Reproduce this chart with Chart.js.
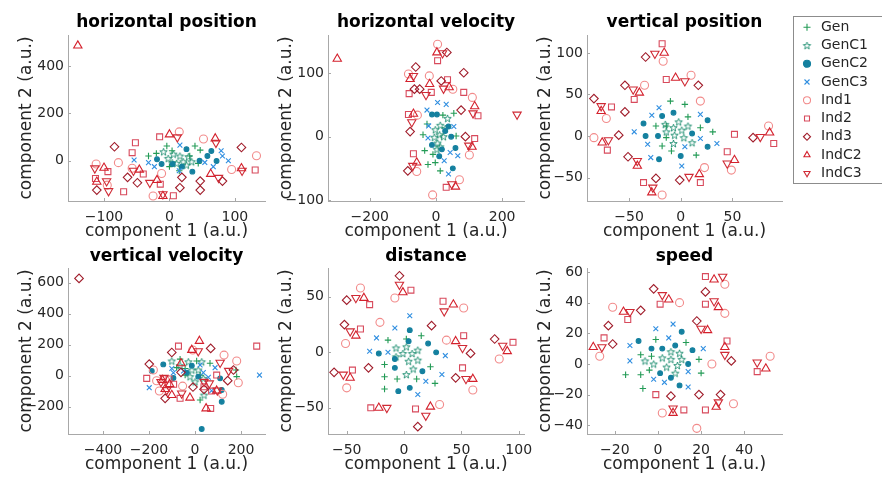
<!DOCTYPE html>
<html>
<head>
<meta charset="utf-8">
<script src="https://cdn.jsdelivr.net/npm/chart.js@4.4.1/dist/chart.umd.min.js"></script>
<style>
  html, body { margin: 0; padding: 0; background: #fff; width: 882px; height: 477px; overflow: hidden; }
  canvas { position: absolute; }
</style>
</head>
<body>
<canvas id="p0"></canvas><canvas id="p1"></canvas><canvas id="p2"></canvas>
<canvas id="p3"></canvas><canvas id="p4"></canvas><canvas id="p5"></canvas>
<canvas id="legend"></canvas>
<script>
// series names (legend order)
const seriesNames = ['Gen', 'GenC1', 'GenC2', 'GenC3', 'Ind1', 'Ind2', 'Ind3', 'IndC2', 'IndC3'];
const panelTitles = ['horizontal position', 'horizontal velocity', 'vertical position',
                     'vertical velocity', 'distance', 'speed'];

// axis limits and tick values per panel
const xLimits = [[-155, 146], [-326, 266], [-90.7, 98], [-552, 304], [-66.3, 104.6], [-32.9, 57.5]];
const yLimits = [[-170, 531], [-101.6, 160.6], [-78.2, 121.5], [-376, 695], [-73.6, 76], [-45.7, 62.6]];
const xTicks = [[-100, 0, 100], [-200, 0, 200], [-50, 0, 50], [-400, -200, 0, 200], [-50, 0, 50, 100], [-20, 0, 20, 40]];
const yTicks = [[0, 200, 400], [-100, 0, 100], [-50, 0, 50, 100], [-200, 0, 200, 400, 600], [-50, 0, 50], [-40, -20, 0, 20, 40, 60]];

// horizontal position
const hpGen   = [[-32,20],[-20,31],[-4,62],[4,42],[31,20],[39,62],[47,45],[44,-11],[0,-25],[15,-42]];
const hpGenC1 = [[-9,38],[6,28],[-2,10],[16,20],[29,17],[21,-4],[34,-4],[11,-11],[4,-8],[26,-18]];
const hpGenC2 = [[-19,6],[-12,-14],[5,-14],[26,49],[58,20],[64,41],[72,-1],[35,-46],[19,-25],[46,0]];
const hpGenC3 = [[16,66],[-54,3],[-32,-8],[-23,-25],[15,-42],[54,-7],[67,-25],[79,42],[81,20],[90,0]];
const hpInd1  = [[15,122],[52,92],[-78,-8],[-112,-14],[-57,-32],[-12,-54],[-95,-103],[-25,-149],[95,-37],[133,21]];
const hpInd2  = [[-15,101],[-52,76],[-57,34],[-94,-46],[-113,-75],[-40,-56],[-14,-99],[-70,-131],[6,-148],[131,-39]];
const hpInd3  = [[-84,59],[110,56],[-49,-93],[-64,-70],[-111,-124],[19,-70],[16,-114],[47,-86],[47,-124],[81,-86]];
const hpIndC2 = [[-140,486],[0,111],[70,94],[-100,-30],[-111,-89],[-19,-82],[63,-56],[110,-32],[-10,-149],[-46,-38]];
const hpIndC3 = [[12,99],[71,76],[-114,-32],[-96,-86],[-93,-128],[-55,-42],[-30,-93],[75,-72],[111,-42],[-10,-141]];

// horizontal velocity
const hvGen   = [[21,34],[54,37],[-27,20],[-39,3],[61,1],[-34,-22],[-9,-28],[-24,-44],[-2,-41],[13,-54]];
const hvGenC1 = [[35,29],[13,18],[28,13],[-2,11],[11,3],[23,0],[-5,-1],[5,-10],[13,-16],[3,-20]];
const hvGenC2 = [[-12,35],[3,35],[38,16],[46,0],[-12,-13],[18,-20],[59,-18],[10,-31],[51,-50],[28,9]];
const hvGenC3 = [[5,54],[31,51],[-27,42],[-22,17],[54,16],[-24,-2],[43,-25],[66,-30],[25,-38],[38,-59]];
const hvInd1  = [[5,146],[-83,99],[-20,96],[51,75],[110,62],[-56,34],[101,-29],[-58,-55],[71,-68],[-10,-92]];
const hvInd2  = [[5,120],[35,90],[-81,68],[-14,70],[84,70],[-83,35],[127,33],[117,-3],[-68,-27],[31,-80]];
const hvInd3  = [[-61,110],[16,88],[-65,75],[-49,75],[33,133],[84,101],[76,42],[-78,8],[89,0],[-85,-54]];
const hvIndC2 = [[-298,123],[3,133],[-78,91],[-19,83],[40,78],[-68,36],[117,48],[109,-16],[-58,-41],[59,-79]];
const hvIndC3 = [[245,35],[20,132],[23,76],[-30,66],[-73,23],[112,37],[99,-14],[-70,-46],[48,-75],[-68,96]];

// vertical position
const vpGen   = [[-10,42],[4,38],[7,23],[-14,12],[19,10],[31,5],[-14,-2],[-18,-12],[-9,-18],[15,-23],[-24,12]];
const vpGenC1 = [[-2,17],[-15,14],[-7,10],[7,12],[1,7],[-14,5],[-6,1],[3,-2],[-7,-9],[11,-8]];
const vpGenC2 = [[-7,28],[-18,24],[-36,15],[-34,0],[-22,0],[11,3],[26,19],[26,-13],[0,-24],[-21,-28]];
const vpGenC3 = [[-21,34],[-28,25],[19,26],[-45,5],[19,-3],[-32,-10],[4,-13],[35,-9],[-29,-26],[1,-36]];
const vpInd1  = [[-17,90],[-35,61],[10,73],[19,42],[-72,21],[-84,-2],[23,-38],[49,-41],[-18,-71],[85,12]];
const vpInd2  = [[-18,111],[-14,68],[-45,44],[-67,35],[-71,-17],[52,2],[45,-19],[19,-56],[-36,-56],[90,-9]];
const vpInd3  = [[-34,95],[17,61],[-54,61],[-84,45],[-54,29],[-60,1],[-51,-25],[-24,-51],[-1,-53],[70,-2]];
const vpIndC2 = [[-16,100],[-5,70],[-40,52],[-77,30],[-76,-8],[-42,-36],[52,-29],[18,-46],[-28,-68],[86,4]];
const vpIndC3 = [[-25,99],[-46,56],[4,66],[-77,36],[-70,-5],[-42,-30],[8,-49],[45,-33],[-27,-62],[77,-1]];

// vertical velocity
const vvGen   = [[-65,107],[7,95],[65,80],[-43,47],[178,37],[181,-6],[22,4],[22,-157],[-43,4],[-80,52]];
const vvGenC1 = [[-101,95],[-29,90],[29,90],[-14,37],[14,37],[-22,-6],[0,-39],[36,-17],[39,-125],[-65,65]];
const vvGenC2 = [[-188,30],[-138,73],[-14,65],[14,-6],[109,-17],[116,-92],[116,-168],[29,-344],[-94,-15],[-36,20]];
const vvGenC3 = [[-199,-77],[-101,47],[-94,19],[22,69],[87,52],[72,-97],[280,4],[36,20],[58,-10],[-50,30]];
const vvInd1  = [[-181,37],[-167,-32],[-155,-99],[-54,-67],[126,133],[181,95],[188,-45],[120,-120],[-10,166],[-130,-25]];
const vvInd2  = [[-72,191],[268,191],[-210,-17],[-113,-21],[-65,-146],[39,-71],[72,-99],[68,-211],[94,4],[-93,-55]];
const vvInd3  = [[-504,628],[-199,75],[-101,150],[68,176],[-130,-146],[39,-88],[167,37],[142,-32],[-61,22],[-9,-73]];
const vvIndC2 = [[19,224],[-14,166],[-61,80],[-142,-28],[-101,-125],[-22,-142],[48,-211],[94,-97],[-130,-86],[-110,-55]];
const vvIndC3 = [[14,159],[109,84],[146,32],[62,-49],[-135,-13],[-123,-92],[-58,-114],[97,-95],[39,-39],[-148,-40]];

// distance
const dGen   = [[-14,11],[2,12],[15,15],[-17,-11],[-17,-22],[-6,-24],[11,-24],[23,-13],[27,-28],[-17,-33]];
const dGenC1 = [[-7,4],[2,5],[12,2],[-1,-1],[7,-1],[4,-8],[-7,-4],[8,-15],[2,-20],[12,-7]];
const dGenC2 = [[5,20],[4,10],[-22,-1],[-8,-6],[-8,-14],[16,-17],[21,8],[28,0],[-5,-35],[5,-32]];
const dGenC3 = [[5,33],[-8,22],[-24,13],[-30,1],[-14,0],[19,-26],[33,-20],[36,-3],[12,-38]];
const dInd1  = [[-38,58],[-21,27],[-51,8],[-8,49],[37,11],[52,40],[83,-6],[60,-34],[31,-47],[-50,-32]];
const dInd2  = [[-30,43],[-38,21],[-45,-16],[6,56],[34,46],[52,15],[51,-14],[10,-51],[-29,-50],[95,9]];
const dInd3  = [[-4,69],[-50,47],[-52,25],[-31,-14],[-61,-18],[24,24],[45,-23],[58,-1],[79,12],[12,-67]];
const dIndC2 = [[-35,49],[-1,54],[43,43],[-42,15],[45,10],[-47,-23],[60,-24],[90,1],[23,-49],[-22,-50]];
const dIndC3 = [[-42,49],[-4,61],[35,37],[-47,19],[51,4],[-53,-20],[54,-24],[86,6],[19,-57],[-15,-50]];

// speed
const sGen   = [[-1,16],[13,14],[-8,6],[-3,5],[-15,-7],[-8,-7],[-4,-4],[19,3],[20,-6],[-7,-16]];
const sGenC1 = [[2,4],[6,8],[10,7],[-6,2],[-2,0],[6,3],[11,3],[4,-2],[9,-1],[8,-6]];
const sGenC2 = [[-9,15],[-3,10],[2,10],[8,12],[11,21],[16,9],[14,0],[1,-6],[6,-9],[10,-14]];
const sGenC3 = [[-1,23],[7,26],[5,17],[-13,12],[-13,2],[21,10],[-2,-10],[3,-12],[14,-5],[14,-15]];
const sInd1  = [[-21,37],[-27,5],[10,40],[31,33],[31,52],[25,0],[35,-26],[2,-32],[18,-42],[52,5]];
const sInd2  = [[1,39],[-14,29],[-25,17],[22,57],[22,39],[32,15],[-1,-20],[12,-30],[22,-30],[46,-5]];
const sInd3  = [[-2,49],[-8,35],[-23,25],[-21,13],[18,28],[22,47],[34,2],[6,-21],[19,-20],[29,-20]];
const sIndC2 = [[5,42],[-16,34],[-30,11],[23,22],[26,55],[28,37],[31,11],[27,-28],[7,-32],[50,-3]];
const sIndC3 = [[2,45],[-13,34],[-26,11],[20,23],[30,57],[26,41],[31,6],[28,-25],[7,-29],[46,1]];

const panelSeries = [
  [hpGen, hpGenC1, hpGenC2, hpGenC3, hpInd1, hpInd2, hpInd3, hpIndC2, hpIndC3],
  [hvGen, hvGenC1, hvGenC2, hvGenC3, hvInd1, hvInd2, hvInd3, hvIndC2, hvIndC3],
  [vpGen, vpGenC1, vpGenC2, vpGenC3, vpInd1, vpInd2, vpInd3, vpIndC2, vpIndC3],
  [vvGen, vvGenC1, vvGenC2, vvGenC3, vvInd1, vvInd2, vvInd3, vvIndC2, vvIndC3],
  [dGen, dGenC1, dGenC2, dGenC3, dInd1, dInd2, dInd3, dIndC2, dIndC3],
  [sGen, sGenC1, sGenC2, sGenC3, sInd1, sInd2, sInd3, sIndC2, sIndC3]
];

// ---- styling / layout ----
const FONT = '"DejaVu Sans", sans-serif';
const TEXT = '#262626';
const AXIS = '#a8a8a8';

// pentagram marker (MATLAB 'p') as an image point style
function makeStar(color, r) {
  const c = document.createElement('canvas');
  const s = Math.ceil(r * 2 + 3);
  c.width = c.height = s;
  const g = c.getContext('2d');
  g.strokeStyle = color;
  g.lineWidth = 0.9;
  g.beginPath();
  for (let k = 0; k < 10; k++) {
    const rad = k % 2 ? r * 0.4 : r;
    const a = -Math.PI / 2 + k * Math.PI / 5;
    const px = s / 2 + rad * Math.cos(a), py = s / 2 + 0.4 + rad * Math.sin(a);
    k ? g.lineTo(px, py) : g.moveTo(px, py);
  }
  g.closePath();
  g.stroke();
  return c;
}

const markers = [
  { style: 'cross',    color: '#239b56', r: 3.2 },
  { style: makeStar('#1b8c6e', 3.9), color: '#1b8c6e', r: 4 },
  { style: 'circle',   color: '#14809f', r: 2.4, fill: true },
  { style: 'crossRot', color: '#2f8ee0', r: 3.4 },
  { style: 'circle',   color: '#f28b8b', r: 4 },
  { style: 'rect',     color: '#d84a5c', r: 4.2 },
  { style: 'rectRot',  color: '#a01c2a', r: 4.3 },
  { style: 'triangle', color: '#d4202c', r: 4.8 },
  { style: 'triangle', color: '#d02a35', r: 4.8, rot: 180 }
];

function dataset(k, pts) {
  const m = markers[k];
  return {
    label: seriesNames[k],
    data: pts.map(p => ({ x: p[0], y: p[1] })),
    pointStyle: m.style,
    pointRotation: m.rot || 0,
    pointRadius: m.r,
    pointHoverRadius: m.r,
    borderWidth: 1.1,
    pointBorderWidth: 1.1,
    borderColor: m.color,
    backgroundColor: m.fill ? m.color : 'rgba(0,0,0,0)',
    order: -k,
    clip: false
  };
}

// inward tick marks like MATLAB
const innerTicks = {
  id: 'innerTicks',
  afterDraw(chart) {
    const { ctx, chartArea: a, scales: { x, y } } = chart;
    ctx.save();
    ctx.strokeStyle = AXIS;
    ctx.lineWidth = 1;
    ctx.beginPath();
    x.ticks.forEach(t => {
      const p = Math.round(x.getPixelForValue(t.value)) + 0.5;
      ctx.moveTo(p, a.bottom); ctx.lineTo(p, a.bottom - 3);
    });
    y.ticks.forEach(t => {
      const p = Math.round(y.getPixelForValue(t.value)) + 0.5;
      ctx.moveTo(a.left, p); ctx.lineTo(a.left + 3, p);
    });
    ctx.stroke();
    ctx.restore();
  }
};

function axis(lim, ticks, label, tickPad, fit) {
  return {
    type: 'linear',
    min: lim[0],
    max: lim[1],
    afterBuildTicks: s => { s.ticks = ticks.map(v => ({ value: v })); },
    afterFit: fit,
    grid: { display: false, drawTicks: false },
    border: { display: true, color: AXIS, width: 1 },
    ticks: {
      padding: tickPad, color: TEXT, autoSkip: false, maxRotation: 0,
      font: { family: FONT, size: 14 },
      callback: v => String(v).replace('-', '\u2212')
    },
    title: { display: true, text: label, color: TEXT, font: { family: FONT, size: 17 }, padding: 0 }
  };
}

// axes boxes in page pixels
const colBox = [[68, 265], [328, 524], [587, 782]];
const rowBox = [
  { top: 0,   bottom: 242, tPad: 12,  bPad: 2.6 },
  { top: 242, bottom: 475, tPad: 4.3, bPad: 1.3 }
];
const Y_AXIS_W = 52, X_AXIS_H = 41, PAD_R = 20;

panelSeries.forEach((series, i) => {
  const [bl, br] = colBox[i % 3];
  const row = rowBox[Math.floor(i / 3)];
  const cv = document.getElementById('p' + i);
  cv.width = br - bl + Y_AXIS_W + PAD_R;
  cv.height = row.bottom - row.top;
  cv.style.left = (bl - Y_AXIS_W) + 'px';
  cv.style.top = row.top + 'px';

  new Chart(cv, {
    type: 'scatter',
    data: { datasets: series.map((pts, k) => dataset(k, pts)) },
    options: {
      responsive: false,
      animation: false,
      events: [],
      layout: { padding: { left: 0, right: PAD_R, top: 0, bottom: 0 } },
      plugins: {
        legend: { display: false },
        tooltip: { enabled: false },
        title: {
          display: true, text: panelTitles[i], fullSize: false, color: '#000',
          font: { family: FONT, size: 17, weight: 'bold' },
          padding: { top: row.tPad, bottom: row.bPad }
        }
      },
      scales: {
        x: axis(xLimits[i], xTicks[i], 'component 1 (a.u.)', 8, s => { s.height = X_AXIS_H; }),
        y: axis(yLimits[i], yTicks[i], 'component 2 (a.u.)', 4, s => { s.width = Y_AXIS_W; })
      }
    },
    plugins: [innerTicks]
  });
});

// legend as its own chart
const legendBorder = {
  id: 'legendBorder',
  afterDraw(chart) {
    const ctx = chart.ctx;
    ctx.save();
    ctx.strokeStyle = '#8c8c8c';
    ctx.lineWidth = 1;
    ctx.strokeRect(0.5, 0.5, chart.width + 5, 167);
    ctx.restore();
  }
};

const lc = document.getElementById('legend');
lc.width = 100;
lc.height = 340;
lc.style.left = '793px';
lc.style.top = '16px';
new Chart(lc, {
  type: 'scatter',
  data: { datasets: seriesNames.map((n, k) => dataset(k, [])) },
  options: {
    responsive: false,
    animation: false,
    events: [],
    layout: { padding: { left: 2.75, right: 0, top: 0, bottom: 0 } },
    scales: { x: { display: false }, y: { display: false } },
    plugins: {
      tooltip: { enabled: false },
      legend: {
        display: true, position: 'top', align: 'start',
        labels: {
          usePointStyle: true, boxWidth: 18, boxHeight: 5, padding: 4.25,
          color: TEXT, font: { family: FONT, size: 14 },
          sort: (a, b) => a.datasetIndex - b.datasetIndex
        }
      }
    }
  },
  plugins: [legendBorder]
});
</script>
</body>
</html>
